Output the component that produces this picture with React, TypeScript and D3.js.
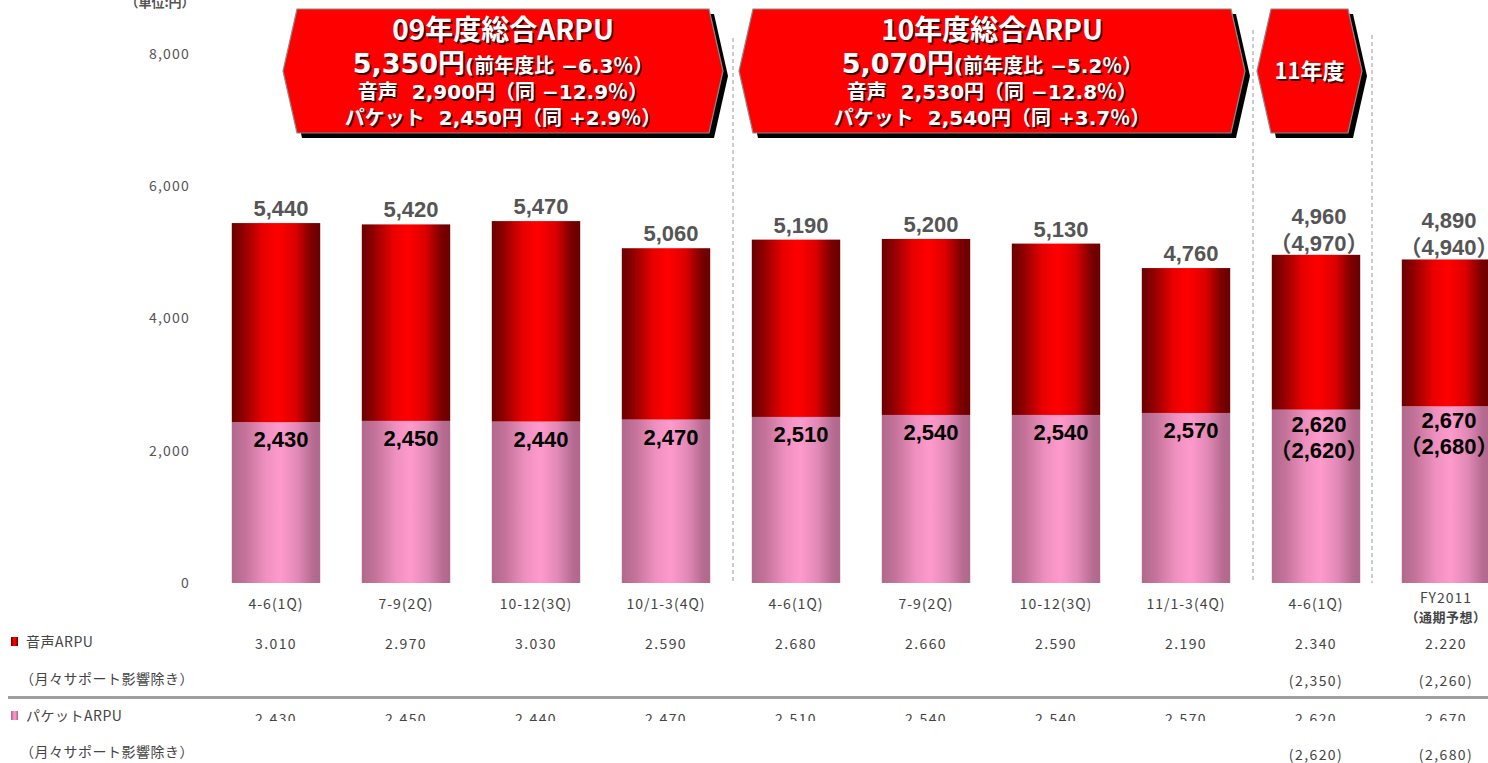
import React from "react";
import * as d3 from "d3";

const categories = ["4-6(1Q)", "7-9(2Q)", "10-12(3Q)", "10/1-3(4Q)", "4-6(1Q)", "7-9(2Q)", "10-12(3Q)", "11/1-3(4Q)", "4-6(1Q)", "FY2011"];
const categorySub = ["", "", "", "", "", "", "", "", "", "（通期予想）"];
const voiceArpu = [3010, 2970, 3030, 2590, 2680, 2660, 2590, 2190, 2340, 2220];
const packetArpu = [2430, 2450, 2440, 2470, 2510, 2540, 2540, 2570, 2620, 2670];
const totalArpu = [5440, 5420, 5470, 5060, 5190, 5200, 5130, 4760, 4960, 4890];
const totalExcl: (number | null)[] = [null, null, null, null, null, null, null, null, 4970, 4940];
const voiceExcl: (number | null)[] = [null, null, null, null, null, null, null, null, 2350, 2260];
const packetExcl: (number | null)[] = [null, null, null, null, null, null, null, null, 2620, 2680];
const yTicks = [0, 2000, 4000, 6000, 8000];

const FONT_JP = "'Noto Sans CJK JP', 'Noto Sans', sans-serif";
const FONT_WIDE = "'DejaVu Sans', 'Noto Sans CJK JP', sans-serif";
const FONT_NUM = "'Liberation Sans', Arial, 'Noto Sans CJK JP', sans-serif";

const banners = [
  { x0: 283, x1: 723, lines: [
    { parts: [{ t: "09年度総合ARPU", s: 28, f: FONT_JP }] },
    { parts: [{ t: "5,350円", s: 27, f: FONT_WIDE }, { t: "(前年度比 −6.3％）", s: 20, f: FONT_WIDE }] },
    { parts: [{ t: "音声  2,900円（同 −12.9％）", s: 20, f: FONT_WIDE }] },
    { parts: [{ t: "パケット  2,450円（同 +2.9％）", s: 20, f: FONT_WIDE }] },
  ] },
  { x0: 739, x1: 1245, lines: [
    { parts: [{ t: "10年度総合ARPU", s: 28, f: FONT_JP }] },
    { parts: [{ t: "5,070円", s: 27, f: FONT_WIDE }, { t: "(前年度比 −5.2％）", s: 20, f: FONT_WIDE }] },
    { parts: [{ t: "音声  2,530円（同 −12.8％）", s: 20, f: FONT_WIDE }] },
    { parts: [{ t: "パケット  2,540円（同 +3.7％）", s: 20, f: FONT_WIDE }] },
  ] },
  { x0: 1257, x1: 1362, lines: [
    { parts: [{ t: "11年度", s: 22, f: FONT_JP }] },
  ] },
];

const dividerX = [733, 1253, 1372];
const dividerTop = [38, 30, 35];

const W = 1488;
const H = 763;

export default function App() {
  const x = d3.scaleBand<number>()
    .domain(d3.range(categories.length))
    .range([211, 1511])
    .paddingInner(0.32)
    .paddingOuter(0.16);
  const y = d3.scaleLinear().domain([0, 8000]).range([583, 53.7]);
  const bw = x.bandwidth();
  const fmt = d3.format(",");
  const fmtDot = (v: number) => fmt(v).replace(",", ".");

  const bannerTop = 9;
  const bannerBot = 133;
  const lineYs4 = [40, 73, 99, 125];

  const tableText = { fontFamily: FONT_JP, fontSize: 14, fill: "#444" } as const;

  return (
    <div style={{ position: "absolute", left: 0, top: 0 }}>
      <svg width={W} height={H} style={{ display: "block" }}>
        <defs>
          <linearGradient id="gRed" x1="0" x2="1" y1="0" y2="0">
            <stop offset="0" stopColor="#6a0000" />
            <stop offset="0.12" stopColor="#8c0000" />
            <stop offset="0.35" stopColor="#e80000" />
            <stop offset="0.52" stopColor="#ff0000" />
            <stop offset="0.72" stopColor="#dd0000" />
            <stop offset="0.9" stopColor="#7a0000" />
            <stop offset="1" stopColor="#6a0000" />
          </linearGradient>
          <linearGradient id="gPink" x1="0" x2="1" y1="0" y2="0">
            <stop offset="0" stopColor="#b0688c" />
            <stop offset="0.15" stopColor="#c47299" />
            <stop offset="0.38" stopColor="#ee90bf" />
            <stop offset="0.55" stopColor="#ff9acc" />
            <stop offset="0.75" stopColor="#e088b6" />
            <stop offset="0.92" stopColor="#b66b90" />
            <stop offset="1" stopColor="#b0688c" />
          </linearGradient>
          <clipPath id="clipRow">
            <rect x={0} y={700} width={W} height={21} />
          </clipPath>
        </defs>

        {/* unit label */}
        <text x={160} y={7} textAnchor="middle" fontFamily={FONT_JP} fontSize={13} fontWeight="bold" fill="#555">（単位:円）</text>

        {/* y axis tick labels */}
        {yTicks.map((t) => (
          <text key={t} x={190} y={y(t)} dy="0.35em" textAnchor="end" fontFamily={FONT_JP} fontSize={14} fill="#555" letterSpacing="1.2">{fmt(t)}</text>
        ))}

        {/* dividers */}
        {dividerX.map((dx, i) => (
          <line key={i} x1={dx} x2={dx} y1={dividerTop[i]} y2={583} stroke="#9a9a9a" strokeWidth={1} strokeDasharray="4,3" />
        ))}

        {/* banners */}
        {banners.map((b, bi) => {
          const mid = (bannerTop + bannerBot) / 2;
          const inset = 14;
          const pts = (ox: number, oy: number) => [
            [b.x0 + inset + ox, bannerTop + oy],
            [b.x1 - inset + ox, bannerTop + oy],
            [b.x1 + ox, mid + oy],
            [b.x1 - inset + ox, bannerBot + oy],
            [b.x0 + inset + ox, bannerBot + oy],
            [b.x0 + ox, mid + oy],
          ].map((p) => p.join(",")).join(" ");
          const cx = (b.x0 + b.x1) / 2;
          const ys = b.lines.length === 1 ? [mid + 8] : lineYs4;
          return (
            <g key={bi}>
              <polygon points={pts(5, 5)} fill="#000" />
              <polygon points={pts(0, 0)} fill="#ff0000" stroke="#8a8a8a" strokeWidth={1.2} />
              {b.lines.map((ln, li) => (
                <g key={li}>
                  {[0, 1].map((layer) => (
                    <text key={layer} x={cx + (layer === 0 ? 1.5 : 0)} y={ys[li] + (layer === 0 ? 1.5 : 0)} textAnchor="middle" fontWeight="bold" fill={layer === 0 ? "#3a0000" : "#fff"} style={{ whiteSpace: "pre" }}>
                      {ln.parts.map((p, pi) => (
                        <tspan key={pi} fontSize={p.s} fontFamily={p.f}>{p.t}</tspan>
                      ))}
                    </text>
                  ))}
                </g>
              ))}
            </g>
          );
        })}

        {/* bars */}
        {categories.map((_, i) => {
          const x0 = x(i)!;
          return (
            <g key={i}>
              <rect x={x0} y={y(packetArpu[i])} width={bw} height={y(0) - y(packetArpu[i])} fill="url(#gPink)" />
              <rect x={x0} y={y(totalArpu[i])} width={bw} height={y(packetArpu[i]) - y(totalArpu[i])} fill="url(#gRed)" />
            </g>
          );
        })}

        {/* value labels */}
        {categories.map((_, i) => {
          const cx = x(i)! + bw / 2 + 5;
          const hasEx = totalExcl[i] != null;
          return (
            <g key={i} fontFamily={FONT_NUM} fontWeight="bold" fontSize={22}>
              {hasEx ? (
                <>
                  <text x={cx - 2} y={y(totalArpu[i]) - 31} textAnchor="middle" fill="#555">{fmt(totalArpu[i])}</text>
                  <text x={cx - 2} y={y(totalArpu[i]) - 4} textAnchor="middle" fill="#555">（{fmt(totalExcl[i]!)}）</text>
                  <text x={cx - 2} y={y(packetArpu[i]) + 22} textAnchor="middle" fill="#000">{fmt(packetArpu[i])}</text>
                  <text x={cx - 2} y={y(packetArpu[i]) + 48} textAnchor="middle" fill="#000">（{fmt(packetExcl[i]!)}）</text>
                </>
              ) : (
                <>
                  <text x={cx} y={y(totalArpu[i]) - 7} textAnchor="middle" fill="#555">{fmt(totalArpu[i])}</text>
                  <text x={cx} y={y(packetArpu[i]) + 25} textAnchor="middle" fill="#000">{fmt(packetArpu[i])}</text>
                </>
              )}
            </g>
          );
        })}

        {/* category labels */}
        {categories.map((c, i) => {
          const cx = x(i)! + bw / 2;
          return (
            <g key={i} {...tableText} textAnchor="middle" letterSpacing="1">
              {categorySub[i] ? (
                <>
                  <text x={cx} y={603}>{c}</text>
                  <text x={cx} y={622} fontSize={13} fontWeight="bold" letterSpacing="0.5">{categorySub[i]}</text>
                </>
              ) : (
                <text x={cx} y={609}>{c}</text>
              )}
            </g>
          );
        })}

        {/* table */}
        <rect x={11} y={637} width={7} height={9} fill="url(#gRed)" />
        <text x={26} y={647} {...tableText} letterSpacing="0.5">音声ARPU</text>
        <text x={20} y={684} {...tableText} letterSpacing="0.5">（月々サポート影響除き）</text>
        <line x1={8} x2={W} y1={697.5} y2={697.5} stroke="#a0a0a0" strokeWidth={3} />
        <rect x={11} y={711} width={7} height={9} fill="url(#gPink)" />
        <text x={26} y={721} {...tableText} letterSpacing="0.5">パケットARPU</text>
        <text x={20} y={757} {...tableText} letterSpacing="0.5">（月々サポート影響除き）</text>

        {categories.map((_, i) => {
          const cx = x(i)! + bw / 2;
          return (
            <g key={i} {...tableText} textAnchor="middle" letterSpacing="1.4">
              <text x={cx} y={649}>{fmtDot(voiceArpu[i])}</text>
              {voiceExcl[i] != null && <text x={cx} y={686}>({fmt(voiceExcl[i]!)})</text>}
              <g clipPath="url(#clipRow)">
                <text x={cx} y={724}>{fmtDot(packetArpu[i])}</text>
              </g>
              {packetExcl[i] != null && <text x={cx} y={760}>({fmt(packetExcl[i]!)})</text>}
            </g>
          );
        })}
      </svg>
    </div>
  );
}
